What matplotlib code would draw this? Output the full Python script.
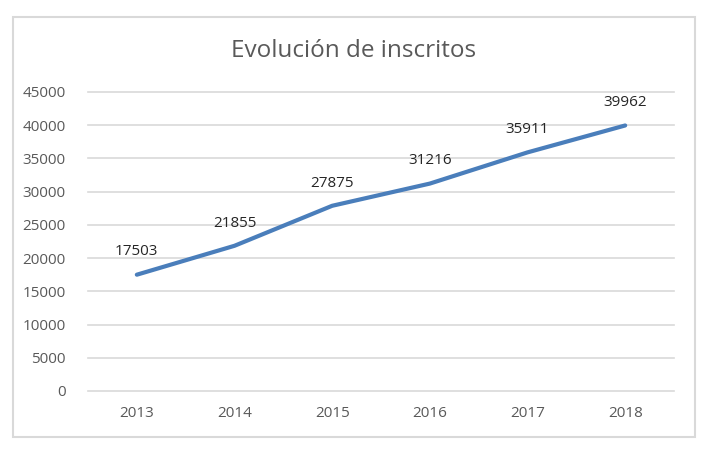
import matplotlib.pyplot as plt
from matplotlib.patches import Rectangle

# Datos del grafico
years = ['2013', '2014', '2015', '2016', '2017', '2018']
inscritos = [17503, 21855, 27875, 31216, 35911, 39962]
y_ticks = [0, 5000, 10000, 15000, 20000, 25000, 30000, 35000, 40000, 45000]

plt.rcParams['font.family'] = ['Open Sans', 'DejaVu Sans']

fig = plt.figure(figsize=(7.17, 4.53), dpi=100)
ax = fig.add_axes([88 / 717, 1 - 391 / 453, (674 - 88) / 717, (391 - 92) / 453])

x = list(range(len(years)))
ax.plot(x, inscritos, color='#4a7ebb', linewidth=3, solid_capstyle='round')

# Etiquetas de datos
for xi, val in zip(x, inscritos):
    ax.annotate(str(val), (xi, val), xytext=(0, 11), textcoords='offset points',
                ha='center', va='bottom', fontsize=11, color='#262626')

ax.set_xlim(-0.5, len(years) - 0.5)
ax.set_ylim(0, 45000)
ax.set_xticks(x)
ax.set_xticklabels(years)
ax.set_yticks(y_ticks)
ax.tick_params(axis='both', length=0, labelsize=11, labelcolor='#595959')
ax.tick_params(axis='y', pad=16)
ax.tick_params(axis='x', pad=11)
ax.grid(axis='y', color='#d9d9d9', linewidth=1.2)
for gl in ax.get_ygridlines():
    gl.set_clip_on(False)
ax.set_axisbelow(True)
for s in ax.spines.values():
    s.set_visible(False)

fig.text(354 / 717, 1 - 51 / 453, 'Evolución de inscritos', ha='center', va='center',
         fontsize=17.5, color='#595959')

# Borde del area del grafico
fig.patches.append(Rectangle((13 / 717, 1 - 437 / 453), (695 - 13) / 717, (437 - 17) / 453,
                             transform=fig.transFigure, fill=False,
                             edgecolor='#d9d9d9', linewidth=1.5))

fig.savefig('out.png', dpi=100)
